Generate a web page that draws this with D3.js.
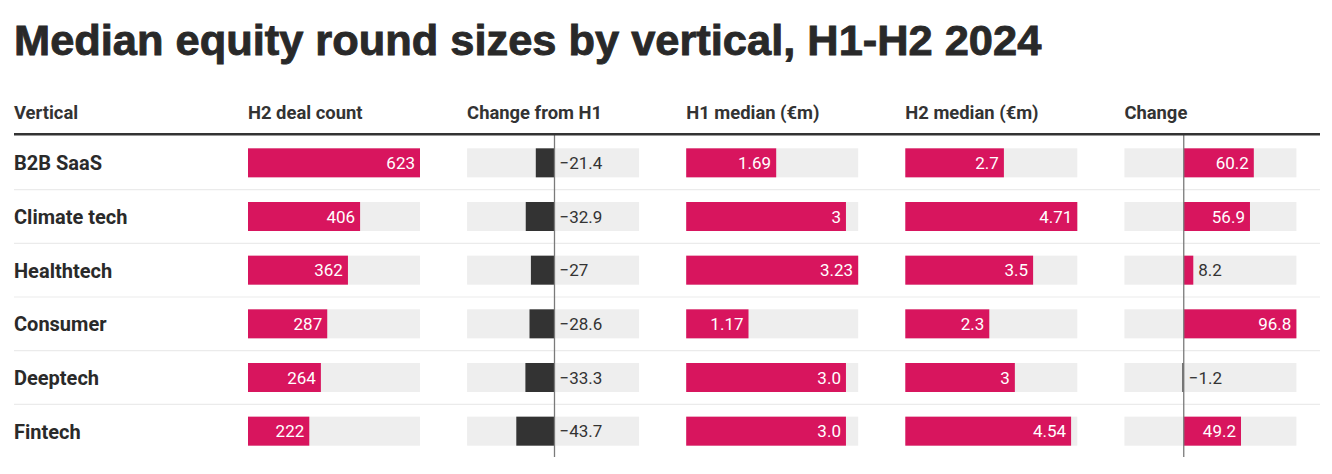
<!DOCTYPE html>
<html>
<head>
<meta charset="utf-8">
<script src="https://cdn.jsdelivr.net/npm/d3@7"></script>
<style>
    body { margin: 0; background: #fff; }
    svg text { font-family: Roboto, "Noto Sans", sans-serif; }
</style>
</head>
<body>
<div id="chart-area"></div>
<script>

const verticals = ["B2B SaaS", "Climate tech", "Healthtech", "Consumer", "Deeptech", "Fintech"];
const dealCount = [623, 406, 362, 287, 264, 222];
const changeFromH1 = [-21.4, -32.9, -27, -28.6, -33.3, -43.7];
const h1Median = [1.69, 3, 3.23, 1.17, 3.0, 3.0];
const h1Labels = ["1.69", "3", "3.23", "1.17", "3.0", "3.0"];
const h2Median = [2.7, 4.71, 3.5, 2.3, 3, 4.54];
const change = [60.2, 56.9, 8.2, 96.8, -1.2, 49.2];
const headers = ["Vertical", "H2 deal count", "Change from H1", "H1 median (€m)", "H2 median (€m)", "Change"];


/* * * * * * * * * * * * * *
*      class TableVis      *
* * * * * * * * * * * * * */

class TableVis {

    constructor(parentElement) {
        this.parentElement = parentElement;
        this.initVis();
    }

    initVis() {
        let vis = this;

        vis.width = 1332;
        vis.height = 474;
        vis.left = 14;
        vis.right = 1320;

        vis.svg = d3.select("#" + vis.parentElement).append("svg")
            .attr("width", vis.width)
            .attr("height", vis.height);

        // columns: values, label text and the domain of each bar scale
        vis.columns = [
            {values: dealCount, labels: dealCount.map(fmt), domain: [0, 623]},
            {values: changeFromH1, labels: changeFromH1.map(fmt), domain: [-100, 96.8]},
            {values: h1Median, labels: h1Labels, domain: [0, 3.23]},
            {values: h2Median, labels: h2Median.map(fmt), domain: [0, 4.71]},
            {values: change, labels: change.map(fmt), domain: [-51, 96.8]}
        ];

        vis.colX = d3.scaleLinear().domain([0, 1]).range([248, 467.1]);
        vis.colW = 172;

        vis.y = d3.scaleBand()
            .domain(verticals)
            .range([136, 458]);

        vis.barH = 29;

        function fmt(d) { return String(d).replace("-", "\u2212"); }

        vis.updateVis();
    }

    updateVis() {
        let vis = this;

        // title
        vis.svg.append("text")
            .attr("x", vis.left)
            .attr("y", 54.5)
            .style("font-family", "'Liberation Sans', Arial, sans-serif")
            .style("font-weight", 700)
            .style("font-size", "43.4px")
            .style("fill", "#292929")
            .style("stroke", "#292929")
            .style("stroke-width", 0.9)
            .text("Median equity round sizes by vertical, H1-H2 2024");

        // header texts
        vis.svg.selectAll(".header")
            .data(headers)
            .enter().append("text")
            .attr("class", "header")
            .attr("x", (d, i) => i === 0 ? vis.left : vis.colX(i - 1))
            .attr("y", 119)
            .style("font-weight", 700)
            .style("font-size", "18.4px")
            .style("fill", "#333")
            .text(d => d);

        // row separators
        vis.svg.selectAll(".sep")
            .data(verticals.slice(0, -1))
            .enter().append("line")
            .attr("class", "sep")
            .attr("x1", vis.left)
            .attr("x2", vis.right)
            .attr("y1", d => vis.y(d) + vis.y.bandwidth())
            .attr("y2", d => vis.y(d) + vis.y.bandwidth())
            .style("stroke", "#ebebeb")
            .style("stroke-width", 1.2);

        // row labels
        vis.svg.selectAll(".rowLabel")
            .data(verticals)
            .enter().append("text")
            .attr("class", "rowLabel")
            .attr("x", vis.left)
            .attr("y", d => vis.y(d) + vis.y.bandwidth() / 2 + 7.5)
            .style("font-weight", 700)
            .style("font-size", "20px")
            .style("fill", "#2a2a2a")
            .text(d => d);

        // bar columns
        vis.columns.forEach(function(col, c) {
            let x0 = vis.colX(c);
            let x = d3.scaleLinear()
                .domain(col.domain)
                .range([x0, x0 + vis.colW]);

            let g = vis.svg.append("g").attr("class", "col col-" + c);

            let cells = verticals.map((v, i) => ({vertical: v, value: col.values[i], label: col.labels[i]}));

            g.selectAll(".bg")
                .data(cells)
                .enter().append("rect")
                .attr("class", "bg")
                .attr("x", x0)
                .attr("width", vis.colW)
                .attr("y", d => vis.y(d.vertical) + vis.y.bandwidth() / 2 - vis.barH / 2)
                .attr("height", vis.barH)
                .style("fill", "#eeeeee");

            g.selectAll(".bar")
                .data(cells)
                .enter().append("rect")
                .attr("class", "bar")
                .attr("x", d => Math.min(x(0), x(d.value)))
                .attr("width", d => Math.abs(x(d.value) - x(0)))
                .attr("y", d => vis.y(d.vertical) + vis.y.bandwidth() / 2 - vis.barH / 2)
                .attr("height", vis.barH)
                .style("fill", d => d.value < 0 ? "#333333" : "#d8155e");

            // zero line for diverging columns
            if (col.domain[0] < 0) {
                g.append("line")
                    .attr("x1", x(0))
                    .attr("x2", x(0))
                    .attr("y1", 135)
                    .attr("y2", 457)
                    .style("stroke", "#7a7a7a")
                    .style("stroke-width", 1.3);
            }

            let labels = g.selectAll(".val")
                .data(cells)
                .enter().append("text")
                .attr("class", "val")
                .attr("y", d => vis.y(d.vertical) + vis.y.bandwidth() / 2 + 6)
                .style("font-size", "17px")
                .text(d => d.label);

            labels.each(function(d) {
                let t = d3.select(this);
                let w = this.getComputedTextLength();
                let barW = Math.abs(x(d.value) - x(0));
                if (d.value < 0) {
                    t.attr("x", x(0) + 5).style("fill", "#333");
                } else if (barW > w + 10) {
                    t.attr("x", x(d.value) - 5).attr("text-anchor", "end").style("fill", "#fff");
                } else {
                    t.attr("x", x(d.value) + 5).style("fill", "#333");
                }
            });
        });

        // header rule
        vis.svg.append("line")
            .attr("x1", vis.left)
            .attr("x2", vis.right)
            .attr("y1", 134.3)
            .attr("y2", 134.3)
            .style("stroke", "#333")
            .style("stroke-width", 2.4);
    }
}

new TableVis("chart-area");
</script>
</body>
</html>
